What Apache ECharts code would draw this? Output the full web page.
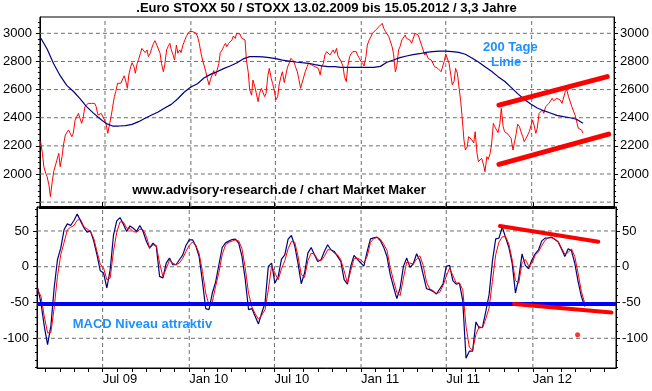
<!DOCTYPE html>
<html>
<head>
<meta charset="utf-8">
<script src="https://cdn.jsdelivr.net/npm/echarts@6/dist/echarts.min.js"></script>
<style>
html,body{margin:0;padding:0;background:#fff;}
#chart{width:652px;height:391px;background:#fff;}
</style>
</head>
<body>
<div id="chart"></div>
<script>
// ---------------- DATA ----------------
const titleText = '.Euro STOXX 50 / STOXX 13.02.2009 bis 15.05.2012 / 3,3 Jahre';
const sourceText = 'www.advisory-research.de / chart Market Maker';
const maLabel1 = '200 Tage';
const maLabel2 = 'Linie';
const macdLabel = 'MACD Niveau attraktiv';

const weekStart = '2009-02-13';   // first Friday close
const tuesdayStart = '2009-02-17'; // first Tuesday close
const maStepWeeks = 2;

// Euro STOXX 50 Friday closes
const priceFri = [
2230,2052,1981,1839,2016,2099,2052,2206,2277,2325,2289,2396,2443,2396,2474,2514,2490,2479,2408,2419,
2360,2301,2467,2585,2649,2656,2668,2704,2791,2716,2815,2893,2863,2834,2893,2948,2929,2787,2775,2905,
2882,2810,2858,2863,2929,2995,3024,3012,2981,2870,2815,2680,2673,2735,2697,2863,2905,2905,2941,2981,
3000,2995,2964,2810,2597,2668,2626,2573,2609,2573,2751,2645,2526,2633,2727,2656,2782,2810,2763,2680,
2645,2727,2787,2775,2763,2751,2763,2846,2882,2858,2858,2839,2799,2692,2763,2853,2858,2846,2803,2768,
2917,2972,3007,3033,3057,3036,3000,2964,2858,2763,2905,2964,2964,2953,2941,3005,2981,2905,2863,2815,
2806,2768,2758,2735,2853,2787,2633,2751,2626,2408,2171,2265,2242,2301,2088,2111,2016,2104,2206,2336,
2294,2467,2301,2284,2253,2159,2355,2301,2230,2265,2313,2348,2325,2436,2431,2490,2507,2521,2538,2526,
2514,2602,2538,2467,2408,2332,2290
];

// Euro STOXX 50 Tuesday closes
const priceTue = [
2147,2005,1920,1945,2016,2147,2123,2277,2313,2265,2384,2431,2360,2479,2502,2502,2502,2419,2431,2384,
2289,2408,2550,2645,2645,2698,2609,2763,2763,2787,2858,2882,2882,2858,2929,2917,2858,2727,2882,2929,
2846,2917,2882,2917,2976,3012,3012,3000,2929,2810,2727,2633,2680,2698,2787,2882,2929,2929,2953,2964,
3012,2965,2953,2720,2560,2621,2514,2609,2550,2700,2680,2590,2550,2692,2650,2760,2822,2799,2727,2609,
2656,2763,2799,2787,2775,2704,2787,2870,2846,2882,2893,2846,2763,2656,2834,2870,2870,2822,2787,2834,
2953,3000,3024,3047,3071,3012,2976,2905,2727,2882,2953,2988,2976,2929,3000,2988,2917,2846,2822,2810,
2763,2751,2727,2805,2846,2700,2660,2716,2520,2242,2194,2265,2220,2147,2076,2064,2123,2147,2360,2325,
2360,2336,2293,2289,2171,2289,2336,2265,2253,2301,2384,2289,2431,2455,2479,2502,2538,2526,2526,2502,
2585,2550,2479,2419,2325,2313
];

// 200-day moving average, every 2 weeks
const ma200 = [
2969,2889,2784,2699,2630,2588,2538,2481,2436,2396,2360,2341,2341,2344,2353,2372,2396,2419,2441,2469,
2495,2535,2583,2618,2642,2682,2708,2727,2749,2768,2789,2818,2834,2834,2832,2827,2820,2810,2803,2796,
2791,2787,2777,2768,2763,2763,2758,2758,2758,2758,2758,2758,2765,2794,2810,2827,2839,2848,2855,2865,
2870,2874,2874,2870,2865,2851,2825,2796,2763,2730,2692,2659,2616,2571,2531,2498,2469,2450,2434,2417,
2408,2400,2389,2360
];

// MACD line (weekly, Fridays)
const macd = [
-29.7,-50.6,-83,-108.7,-83,-29.7,9.8,26,51.6,59.9,57.6,64.6,73.8,64.1,54.8,48.3,50.2,36.2,16.7,-5.6,
-8.8,-29.7,-4.2,43.7,64.1,68.7,59.5,49.2,57.1,53.9,49.2,57.6,49.2,35.3,26,33,28.3,-13.5,-15.8,5.1,
12.1,2.8,2.8,9.8,16.3,29.7,37.6,37.6,28.8,14.4,-20.4,-58.5,-59.9,-36.7,-21.4,2.8,26.9,33.4,35.8,38.1,
38.5,33,14.4,-18.1,-59.9,-58.5,-69.2,-79.9,-64.6,-50.6,0.5,5.1,-22.8,-13.5,10.7,16.7,38.5,43.7,29.7,5.1,
-23.7,-8.8,19,26.9,16.7,7.4,9.8,21.4,30.7,23.7,21.4,14.4,7.4,-18.1,-24.2,0.5,15.8,10.7,5.6,0.9,
21.4,39,40.4,41.3,36.7,27.4,14.4,-11.1,-28.3,-44.6,-29.7,0.5,12.1,-0.9,4.2,18.1,8.4,-11.1,-30.7,-32,
-34.4,-38.1,-31.1,-24.2,0.5,1.9,-19.5,-24.2,-22.8,-47.4,-128,-118,-118,-77.1,-85.5,-84.5,-62.2,-39,7.4,39,
40,55.7,40.9,26.9,5.1,-36.7,-15.8,18.1,1.9,-2.8,9.8,18.1,23.7,36.2,40,40.4,41.3,38.1,34.4,24.6,
14.4,25.1,22.3,5.1,-20.4,-41.3,-55.3
];

// Signal line (weekly, Fridays)
const signal = [
-32,-41.3,-69.2,-92.4,-92.4,-57.6,-13.5,16.7,33.9,51.6,55.3,57.6,65,66.4,56.2,52.9,49.2,39.9,21.4,3.7,
-1.9,-18.1,-15.8,21.4,48.3,62.7,62.7,53.9,53.4,49.2,48.3,52.5,51.6,42.3,26,30.7,29.7,5.1,-13.5,-2.8,
9.3,5.1,2.8,5.1,11.6,21.4,29.7,34.8,29.7,18.6,-6.5,-36.7,-53.9,-49.2,-27.4,-7.9,16.7,30.7,33.9,35.8,
37.6,36.2,25.1,-1.9,-37.2,-56.2,-65.5,-73.4,-67.8,-59.9,-32,1.4,-8.8,-18.1,-2.8,8.4,25.1,35.3,34.4,15.3,
-11.1,-14.9,8.4,19,17.6,9.8,8.4,14.4,23.7,23.7,19,16.7,9.8,-5.6,-22.8,-5.6,11.1,12.1,9.8,5.6,
14.4,33.9,39.5,40.9,38.5,31.6,23.2,-0.9,-19.5,-35.8,-40.4,-15.8,6.5,5.1,3.7,10.7,15.3,1.9,-21.4,-31.1,
-33.4,-37.6,-35.8,-26.5,-13.5,-1.9,-12.1,-22.8,-22.8,-32,-83.1,-112.4,-116.6,-94.7,-83.6,-85.5,-72.5,-57.6,-20.4,16.7,
34.4,41.8,42.3,31.6,9.8,-19.5,-22.8,5.6,10.2,0.9,4.6,16.3,20.9,29.7,37.2,40.4,40.4,38.5,35.3,26,
17.6,20,25.1,14.4,-8.8,-34.4,-50.6
];

// Hand-drawn trend lines
const priceChannelUpper = [['2011-10-23', 2490], ['2012-06-11', 2692]];
const priceChannelLower = [['2011-10-23', 2069], ['2012-06-14', 2284]];
const macdTrendUpper = [['2011-10-23', 57], ['2012-05-19', 35]];
const macdTrendLower = [['2011-11-22', -52], ['2012-06-16', -64]];
const macdDot = [['2012-04-05', -95]];
const macdLevel = -52;

// Axis ticks / labels
const xLabelDates = ['2009-07-01', '2010-01-01', '2010-07-01', '2011-01-01', '2011-07-01', '2012-01-01'];
const xLabels = ['Jul 09', 'Jan 10', 'Jul 10', 'Jan 11', 'Jul 11', 'Jan 12'];
const priceTicks = [1800, 2000, 2200, 2400, 2600, 2800, 3000];
const priceLabels = [2000, 2200, 2400, 2600, 2800, 3000];
const macdTicks = [-100, -50, 0, 50];

// ---------------- BUILD ----------------
const DAY = 864e5, ORIGIN = Date.UTC(2009, 0, 1);
const dayNum = s => (Date.parse(s + 'T00:00:00Z') - ORIGIN) / DAY;
const weekly = (arr, first, stepWeeks) => { const s = dayNum(first); return arr.map((v, i) => [s + 7 * stepWeeks * i, v]); };
const pairs = arr => arr.map(p => [dayNum(p[0]), p[1]]);

const priceData = weekly(priceFri, weekStart, 1).concat(weekly(priceTue, tuesdayStart, 1)).sort((a, b) => a[0] - b[0]);

const X_MIN = 41.6, X_MAX = 1271.6;
const P_MIN = 1765.4, P_MAX = 3116;
const M_MIN = -141.5, M_MAX = 83.5;

const halfYearDays = xLabelDates.map(dayNum);
const monthDays = [];
for (let y = 2009; y <= 2012; y++) for (let m = 0; m < 12; m++) {
  const d = (Date.UTC(y, m, 1) - ORIGIN) / DAY;
  if (d > X_MIN && d < X_MAX) monthDays.push(d);
}
const priceMinor = []; for (let v = 1800; v < P_MAX; v += 40) priceMinor.push(v);
const macdMinor = []; for (let v = -140; v < M_MAX; v += 10) macdMinor.push(v);

const FONT = 'Liberation Sans, Arial, Helvetica, sans-serif';
const gridStyle = { color: '#6e6e6e', width: 1, type: [4, 3] };

// dashed grid lines, drawn as line series through the axes' own scales
function gridSeries(xIdx, yIdx, yValues, yMin, yMax) {
  const segs = halfYearDays.map(d => [[d, yMin], [d, yMax]])
    .concat(yValues.map(v => [[X_MIN, v], [X_MAX, v]]));
  return segs.map(seg => ({
    type: 'line', xAxisIndex: xIdx, yAxisIndex: yIdx, data: seg, z: 5, silent: true,
    symbol: 'none', emphasis: { disabled: true }, tooltip: { show: false },
    lineStyle: gridStyle
  }));
}

function xAxisBase(grid) {
  return { type: 'value', gridIndex: grid, min: X_MIN, max: X_MAX, scale: true };
}
function yMain(grid, pos, min, max, ticks, labels) {
  return {
    type: 'value', gridIndex: grid, position: pos, min: min, max: max,
    axisLine: { show: true, onZero: false, lineStyle: { color: '#000', width: 1 } },
    axisTick: { show: true, length: 4, customValues: ticks, lineStyle: { color: '#000' } },
    axisLabel: { show: true, customValues: labels, color: '#000', fontSize: 13, fontFamily: FONT,
      margin: pos === 'left' ? 8 : 6, formatter: v => String(Math.round(v)) },
    splitLine: { show: false },
    minorTick: { show: false }
  };
}
function yMinor(grid, pos, min, max, ticks) {
  return {
    type: 'value', gridIndex: grid, position: pos, min: min, max: max,
    axisLine: { show: false, onZero: false },
    axisTick: { show: true, length: 2, customValues: ticks, lineStyle: { color: '#000' } },
    axisLabel: { show: false },
    splitLine: { show: false }
  };
}

const option = {
  animation: false,
  grid: [
    { left: 36, top: 17, width: 580, height: 190, show: true, borderColor: '#000', borderWidth: 1, backgroundColor: 'rgba(0,0,0,0)' },
    { left: 36, top: 207, width: 580, height: 161, show: true, borderColor: '#000', borderWidth: 1, backgroundColor: 'rgba(0,0,0,0)' }
  ],
  xAxis: [
    Object.assign(xAxisBase(0), {
      axisLine: { show: true, onZero: false, lineStyle: { color: '#000', width: 3 } },
      axisTick: { show: false },
      axisLabel: { show: false },
      splitLine: { show: false }
    }),
    Object.assign(xAxisBase(1), {
      axisLine: { show: true, onZero: false, lineStyle: { color: '#000', width: 1 } },
      axisTick: { show: true, length: 4, customValues: monthDays, lineStyle: { color: '#000' } },
      axisLabel: {
        show: true, customValues: halfYearDays, align: 'left', margin: 5,
        color: '#000', fontSize: 13, fontFamily: FONT,
        formatter: v => { const i = halfYearDays.findIndex(d => Math.abs(d - v) < 0.5); return i >= 0 ? xLabels[i] : ''; }
      },
      splitLine: { show: false }
    }),
    Object.assign(xAxisBase(1), {
      axisLine: { show: false, onZero: false },
      axisTick: { show: true, length: 5, customValues: halfYearDays, lineStyle: { color: '#000' } },
      axisLabel: { show: false },
      splitLine: { show: false }
    })
  ],
  yAxis: [
    yMain(0, 'left', P_MIN, P_MAX, priceTicks, priceLabels),
    yMain(0, 'right', P_MIN, P_MAX, priceTicks, priceLabels),
    yMinor(0, 'left', P_MIN, P_MAX, priceMinor),
    yMinor(0, 'right', P_MIN, P_MAX, priceMinor),
    yMain(1, 'left', M_MIN, M_MAX, macdTicks, macdTicks),
    yMain(1, 'right', M_MIN, M_MAX, macdTicks, macdTicks),
    yMinor(1, 'left', M_MIN, M_MAX, macdMinor),
    yMinor(1, 'right', M_MIN, M_MAX, macdMinor)
  ],
  series: [].concat(
    gridSeries(0, 0, priceTicks, P_MIN, P_MAX),
    gridSeries(1, 4, macdTicks, M_MIN, M_MAX),
    [
    { name: 'Euro STOXX 50', type: 'line', xAxisIndex: 0, yAxisIndex: 0, data: priceData,
      symbol: 'none', lineStyle: { color: '#ff0000', width: 1 }, z: 6 },
    { name: '200 Tage Linie', type: 'line', xAxisIndex: 0, yAxisIndex: 0, data: weekly(ma200, weekStart, maStepWeeks),
      symbol: 'none', lineStyle: { color: '#000080', width: 1.2 }, z: 7 },
    { name: 'Kanal oben', type: 'line', xAxisIndex: 0, yAxisIndex: 0, data: pairs(priceChannelUpper),
      symbol: 'none', lineStyle: { color: '#ff0000', width: 5, cap: 'round' }, z: 9 },
    { name: 'Kanal unten', type: 'line', xAxisIndex: 0, yAxisIndex: 0, data: pairs(priceChannelLower),
      symbol: 'none', lineStyle: { color: '#ff0000', width: 5, cap: 'round' }, z: 9 },
    { name: 'MACD', type: 'line', xAxisIndex: 1, yAxisIndex: 4, data: weekly(macd, weekStart, 1),
      symbol: 'none', lineStyle: { color: '#000080', width: 1.2 }, z: 6,
      markLine: { silent: true, z: 8, symbol: ['none', 'none'], label: { show: false }, emphasis: { disabled: true },
        lineStyle: { color: '#0000ff', width: 4, type: 'solid' }, data: [{ yAxis: macdLevel }] } },
    { name: 'Signal', type: 'line', xAxisIndex: 1, yAxisIndex: 4, data: weekly(signal, weekStart, 1),
      symbol: 'none', lineStyle: { color: '#ff0000', width: 1 }, z: 6 },
    { name: 'MACD Trend oben', type: 'line', xAxisIndex: 1, yAxisIndex: 4, data: pairs(macdTrendUpper),
      symbol: 'none', lineStyle: { color: '#ff0000', width: 4, cap: 'round' }, z: 9 },
    { name: 'MACD Trend unten', type: 'line', xAxisIndex: 1, yAxisIndex: 4, data: pairs(macdTrendLower),
      symbol: 'none', lineStyle: { color: '#ff0000', width: 4, cap: 'round' }, z: 9 },
    { name: 'Punkt', type: 'scatter', xAxisIndex: 1, yAxisIndex: 4, data: pairs(macdDot),
      symbol: 'circle', symbolSize: 5, itemStyle: { color: '#ff0000' }, z: 9 }
    ]
  ),
  graphic: [
    { type: 'text', x: 326.5, y: 8, z: 12, style: { text: titleText, font: 'bold 13px ' + FONT, fill: '#000', textAlign: 'center', textVerticalAlign: 'middle' } },
    { type: 'text', x: 279, y: 190, z: 12, style: { text: sourceText, font: 'bold 13px ' + FONT, fill: '#000', textAlign: 'center', textVerticalAlign: 'middle' } },
    { type: 'text', x: 483, y: 47.3, z: 12, style: { text: maLabel1, font: 'bold 13px ' + FONT, fill: '#1e90ff', textAlign: 'left', textVerticalAlign: 'middle' } },
    { type: 'text', x: 491, y: 62.7, z: 12, style: { text: maLabel2, font: 'bold 13px ' + FONT, fill: '#1e90ff', textAlign: 'left', textVerticalAlign: 'middle' } },
    { type: 'text', x: 72.7, y: 324.7, z: 12, style: { text: macdLabel, font: 'bold 13px ' + FONT, fill: '#1e90ff', textAlign: 'left', textVerticalAlign: 'middle' } }
  ]
};

const chart = echarts.init(document.getElementById('chart'), null, { renderer: 'canvas' });
chart.setOption(option);
</script>
</body>
</html>
